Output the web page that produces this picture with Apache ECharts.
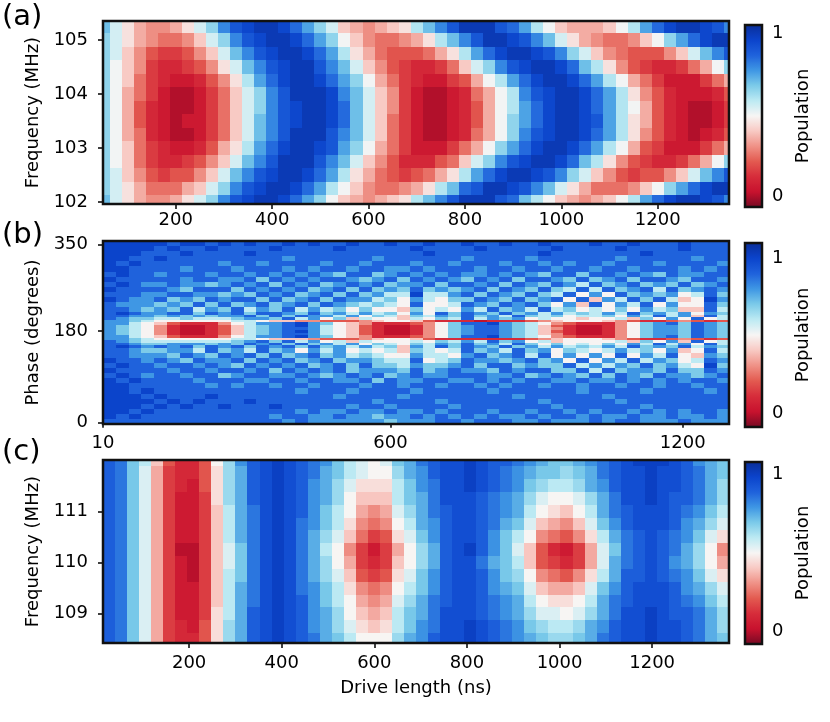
<!DOCTYPE html>
<html>
<head>
<meta charset="utf-8">
<script src="https://cdn.jsdelivr.net/npm/echarts@6/dist/echarts.min.js"></script>
<style>
  html, body { margin: 0; padding: 0; background: #fff; }
  #chart { width: 830px; height: 722px; }
</style>
</head>
<body>
<div id="chart"></div>
<script>
// ---- panel (a): frequency vs drive length, population in percent ----
var timeA = [50,75,100,125,150,175,200,225,250,275,300,325,350,375,400,425,450,475,500,525,550,575,600,625,650,675,700,725,750,775,800,825,850,875,900,925,950,975,1000,1025,1050,1075,1100,1125,1150,1175,1200,1225,1250,1275,1300,1325,1350];
var freqA = [102,102.25,102.5,102.75,103,103.25,103.5,103.75,104,104.25,104.5,104.75,105,105.25];
var popA_102_00 = [70,55,45,35,30,30,35,45,55,65,80,90,95,100,100,95,85,75,65,50,40,35,30,35,40,45,60,70,80,90,100,100,100,90,85,70,60,50,40,35,30,35,40,50,60,75,85,95,100,100,95,90,80];
var popA_102_25 = [65,55,45,35,25,25,25,35,40,55,65,80,90,95,100,100,95,85,75,60,50,40,30,25,25,30,35,45,60,70,85,90,100,100,95,90,80,70,55,45,35,25,25,25,30,40,50,65,75,85,95,100,100];
var popA_102_50 = [65,55,40,30,20,15,20,20,30,40,55,70,80,90,95,100,100,95,85,75,60,45,35,25,20,15,20,25,35,45,60,75,85,95,100,100,95,90,80,65,55,40,30,20,15,20,20,30,40,55,70,80,90];
var popA_102_75 = [65,50,40,25,15,10,10,15,20,30,40,55,70,80,90,100,100,100,90,80,70,55,40,30,20,10,10,10,20,25,40,55,65,80,90,95,100,100,95,85,70,60,45,30,20,15,10,10,15,25,35,50,65];
var popA_103_00 = [65,50,40,25,15,10,5,5,10,20,35,45,60,75,85,95,100,100,95,90,75,65,50,35,25,15,5,5,5,15,25,35,50,65,75,85,95,100,100,95,85,75,60,50,35,20,15,5,5,5,15,25,35];
var popA_103_25 = [65,50,35,25,10,5,0,0,5,15,25,40,55,70,80,90,100,100,100,90,80,70,55,40,25,15,5,0,0,5,10,25,35,50,65,80,90,95,100,100,95,85,75,60,45,30,20,10,5,0,5,10,20];
var popA_103_50 = [65,50,35,20,10,5,0,5,5,15,25,40,55,70,80,90,95,100,100,95,85,70,55,40,25,15,5,0,0,5,10,20,35,50,65,75,85,95,100,100,95,90,75,60,45,35,20,10,5,0,0,5,15];
var popA_103_75 = [65,50,35,20,10,5,0,0,5,15,25,40,55,65,80,90,95,100,100,95,85,70,55,40,30,15,5,0,0,5,10,20,35,50,60,75,85,95,100,100,95,85,75,60,50,35,20,10,5,0,0,5,15];
var popA_104_00 = [65,50,35,25,15,5,0,0,5,15,25,40,55,65,80,90,100,100,100,95,80,70,55,40,30,15,5,0,0,5,10,25,35,50,60,80,90,95,100,100,95,85,75,60,45,30,20,10,5,5,5,10,20];
var popA_104_25 = [65,50,40,25,15,10,5,5,10,20,30,45,60,75,85,95,100,100,95,85,75,65,50,35,25,15,10,5,5,15,20,35,50,60,75,85,95,100,100,95,85,75,60,50,35,25,15,5,5,5,15,25,35];
var popA_104_50 = [65,50,40,30,15,10,10,15,20,30,45,55,70,80,90,95,100,100,90,80,70,55,40,30,20,15,10,10,15,25,40,55,65,80,90,95,100,100,95,85,70,60,45,30,20,15,10,10,15,25,35,50,65];
var popA_104_75 = [65,55,40,30,20,15,15,20,30,40,55,70,80,90,95,100,100,95,85,75,60,45,35,25,20,20,20,25,35,45,60,75,85,95,100,100,95,90,80,65,55,40,30,25,20,20,20,30,40,55,70,80,90];
var popA_105_00 = [65,55,45,35,30,25,25,30,40,55,65,80,90,95,100,100,95,85,75,65,50,40,30,25,25,30,35,45,60,70,80,90,100,100,95,90,80,70,55,45,35,30,25,25,30,40,50,65,75,85,95,100,100];
var popA_105_25 = [70,55,45,35,30,30,35,45,55,65,80,90,95,100,100,95,85,75,65,55,40,35,30,35,40,45,60,70,80,90,100,100,100,90,85,75,60,50,40,35,35,35,40,50,60,75,85,95,100,100,95,90,80];
var popA = [popA_102_00, popA_102_25, popA_102_50, popA_102_75, popA_103_00, popA_103_25, popA_103_50,
            popA_103_75, popA_104_00, popA_104_25, popA_104_50, popA_104_75, popA_105_00, popA_105_25];

// ---- panel (b): phase vs drive length, population in tenths ----
var timeB = [23.125,49.375,75.625,101.875,128.125,154.375,180.625,206.875,233.125,259.375,285.625,311.875,338.125,364.375,390.625,416.875,443.125,469.375,495.625,521.875,548.125,574.375,600.625,626.875,653.125,679.375,705.625,731.875,758.125,784.375,810.625,836.875,863.125,889.375,915.625,941.875,968.125,994.375,1020.625,1046.875,1073.125,1099.375,1125.625,1151.875,1178.125,1204.375,1230.625,1256.875,1283.125];
var phaseEdgesB = [-2.5,7.5,17.5,27.5,37.5,47.5,57.5,67.5,77.5,87.5,97.5,107.5,117.5,127.5,137.5,147.5,152.5,157.5,162.5,167.5,172.5,177.5,182.5,187.5,192.5,197.5,202.5,207.5,212.5,217.5,227.5,237.5,247.5,257.5,267.5,277.5,287.5,297.5,307.5,317.5,327.5,337.5,347.5,357.5];
var popB_002 = [9,9,9,9,9,9,9,9,9,9,9,9,9,9,8,9,8,8,8,8,8,8,7,8,8,8,9,9,8,9,9,9,8,8,9,8,8,8,9,8,9,9,8,8,8,9,8,8,8];
var popB_012 = [10,9,10,9,9,9,9,9,9,9,9,9,9,8,9,9,8,8,9,8,8,7,8,8,9,8,9,8,9,8,9,8,8,9,8,9,9,8,9,8,8,9,8,8,9,8,8,9,8];
var popB_022 = [10,10,9,10,9,9,9,9,9,9,9,9,9,9,9,8,9,8,8,9,8,8,9,8,8,9,8,9,9,9,8,9,9,8,9,9,8,9,8,9,9,8,9,8,9,8,9,9,8];
var popB_032 = [10,10,10,9,10,9,10,9,9,10,9,9,9,10,9,9,9,9,9,8,9,9,8,9,9,9,9,8,9,9,9,9,9,9,9,8,9,9,9,9,9,9,8,9,9,9,9,9,9];
var popB_042 = [10,10,10,10,9,10,9,10,9,9,9,10,9,9,9,9,9,9,9,9,9,8,9,9,9,9,8,9,9,9,9,9,9,9,8,9,9,9,9,9,8,9,9,9,9,9,9,9,9];
var popB_052 = [10,10,10,9,10,9,9,9,10,9,9,9,9,9,9,9,9,9,8,9,9,9,9,8,9,9,9,9,9,9,9,9,8,9,9,9,9,9,9,8,9,9,9,9,9,9,9,9,9];
var popB_062 = [10,10,9,10,9,9,9,9,9,9,9,9,9,9,9,8,9,9,9,8,9,9,9,9,8,9,9,9,9,9,8,9,9,9,9,9,9,8,9,9,9,9,8,9,9,9,9,8,9];
var popB_072 = [10,10,9,9,9,9,9,9,8,9,8,9,9,8,9,9,8,9,9,9,8,9,9,8,9,9,8,9,9,8,9,8,9,9,8,9,9,8,9,9,8,9,9,8,9,9,8,9,9];
var popB_082 = [10,9,10,9,9,9,9,8,9,9,9,8,8,9,9,8,9,9,8,8,9,7,9,8,8,9,9,8,8,9,8,9,8,9,9,8,8,9,8,8,9,8,9,8,9,8,9,9,8];
var popB_092 = [9,10,9,8,9,9,8,9,9,7,8,9,9,8,8,9,8,7,8,9,8,9,7,8,9,8,8,9,9,9,8,8,9,7,8,9,8,7,9,7,9,8,7,9,8,8,7,8,9];
var popB_102 = [10,9,9,9,9,8,9,9,8,9,9,8,9,7,9,8,9,8,9,7,8,8,8,7,9,7,8,9,8,8,7,9,8,9,9,7,7,9,6,9,7,8,8,7,9,7,7,9,8];
var popB_112 = [9,10,9,9,8,9,9,8,9,8,7,9,8,9,8,9,7,8,9,7,9,7,7,6,8,7,7,8,9,7,9,9,7,8,7,7,9,6,8,6,8,7,9,7,8,6,5,10,7];
var popB_122 = [10,9,9,8,9,8,7,9,8,8,9,7,9,8,9,7,8,9,7,8,8,7,6,6,9,5,6,7,9,8,8,7,8,9,7,8,5,9,5,8,6,9,6,8,7,5,6,9,8];
var popB_132 = [9,9,8,8,8,7,9,8,7,9,8,9,7,9,7,8,9,7,8,6,7,6,5,5,8,6,6,5,8,9,7,8,9,6,9,5,8,5,8,5,9,5,8,6,9,5,4,8,7];
var popB_142 = [9,9,8,7,7,8,8,6,9,7,8,6,9,7,8,5,8,6,8,5,6,5,6,4,7,6,5,6,9,7,8,6,9,7,8,5,7,6,5,6,8,6,7,5,8,4,5,9,6];
var popB_150 = [9,10,9,8,9,8,9,7,9,8,9,7,9,8,9,7,9,7,8,6,8,6,7,4,8,6,9,7,9,8,7,9,7,8,6,8,6,7,6,8,6,9,7,8,7,9,6,8,7];
var popB_155 = [9,9,8,7,7,8,8,8,7,8,7,9,8,9,7,9,7,8,6,8,5,7,6,5,7,6,8,7,9,7,8,6,9,7,5,7,5,6,5,7,5,8,6,9,6,8,5,9,6];
var popB_160 = [9,8,7,6,6,6,6,6,6,6,7,8,9,7,9,6,8,5,6,4,6,5,5,5,6,5,7,6,8,6,9,7,8,5,6,4,5,5,5,5,6,4,7,5,8,4,9,5,6];
var popB_165 = [8,8,7,6,5,5,5,5,5,5,6,6,5,4,4,4,3,2,2,2,3,4,5,5,4,2,1,1,1,1,1,1,1,2,3,4,5,5,5,4,3,2,1,1,2,3,2,1,2];
var popB_170 = [8,8,6,5,4,2,1,1,1,3,5,6,8,8,9,10,8,7,5,4,3,1,1,1,2,3,5,7,9,9,10,8,7,6,5,3,2,1,1,1,3,5,7,8,9,7,9,8,7];
var popB_175 = [8,7,6,5,3,1,0,0,1,2,4,6,7,8,9,9,8,6,5,4,2,1,0,0,1,3,5,7,8,9,9,8,7,6,4,3,1,0,0,1,3,5,7,8,8,7,9,8,7];
var popB_180 = [8,7,6,5,3,1,0,0,1,2,4,6,7,8,9,10,8,6,5,4,2,1,0,0,1,3,5,7,8,9,9,8,7,6,4,2,1,0,0,1,3,5,7,8,8,7,9,8,7];
var popB_185 = [8,7,6,5,3,1,0,0,1,2,4,6,7,8,9,9,8,6,5,4,2,1,0,0,1,3,5,7,8,9,9,8,7,6,4,3,1,0,0,1,3,5,7,8,8,7,9,8,7];
var popB_190 = [8,7,6,5,3,1,0,0,1,2,4,6,7,8,9,10,8,6,5,4,2,1,0,0,1,3,5,7,8,9,9,8,7,6,4,2,1,0,0,1,3,5,7,8,8,7,9,8,7];
var popB_195 = [8,8,6,5,4,2,1,1,1,3,5,6,8,8,9,10,8,7,5,4,3,1,1,1,2,3,5,7,9,9,10,8,7,6,5,3,2,1,1,1,3,5,7,8,9,7,9,8,7];
var popB_200 = [8,8,7,6,5,5,5,5,5,5,6,6,5,4,4,3,3,2,2,2,3,4,5,5,4,2,1,1,1,0,1,1,1,2,3,4,5,5,5,4,3,2,1,1,2,3,2,1,2];
var popB_205 = [9,8,7,7,6,6,7,6,6,6,7,8,8,7,9,6,8,5,7,4,6,5,5,4,6,5,7,6,9,6,8,7,8,5,6,5,5,4,5,5,6,4,7,5,8,5,9,5,6];
var popB_210 = [9,9,8,8,7,8,7,8,7,8,8,9,7,9,7,9,8,8,6,8,5,7,6,4,7,6,8,7,9,7,8,6,9,7,6,7,5,6,6,7,5,8,6,9,6,8,4,9,6];
var popB_215 = [9,10,9,8,8,9,9,7,9,8,9,7,9,9,8,7,9,7,8,6,8,6,7,5,8,5,9,7,9,8,7,9,7,8,6,8,6,7,6,8,6,9,7,8,6,8,5,8,7];
var popB_222 = [9,9,8,7,8,7,9,6,8,7,9,6,8,7,9,6,8,6,7,5,7,5,5,4,7,5,6,5,8,6,9,7,8,6,9,6,7,5,6,5,7,5,8,6,7,4,4,9,6];
var popB_232 = [9,8,8,8,7,8,7,9,7,9,7,8,9,7,8,9,7,9,8,7,6,7,6,5,9,5,5,6,9,8,7,9,8,9,7,5,8,4,9,5,8,6,9,5,8,5,5,9,7];
var popB_242 = [10,9,8,8,9,7,8,7,9,8,9,9,7,9,7,8,9,7,9,8,8,6,7,5,8,6,5,7,7,9,8,7,9,7,8,9,5,9,4,8,6,9,7,9,6,4,5,10,8];
var popB_252 = [9,9,9,8,8,9,9,8,8,7,8,7,9,8,9,7,8,9,7,9,7,8,6,6,10,6,6,8,9,7,9,8,7,9,7,6,9,5,8,5,9,7,8,7,8,5,6,9,7];
var popB_262 = [10,9,9,9,9,8,7,9,9,9,7,9,8,9,8,9,7,8,9,7,9,7,8,7,9,7,8,7,8,9,7,9,8,7,9,7,6,9,6,9,7,8,9,6,9,7,8,9,8];
var popB_272 = [9,10,9,8,8,9,8,8,7,8,9,8,9,7,9,8,9,7,8,9,8,9,7,8,8,9,7,9,9,8,9,7,9,8,7,9,8,6,9,7,8,9,7,8,7,9,7,8,9];
var popB_282 = [10,9,9,9,9,9,8,9,9,8,8,9,7,9,8,9,8,9,9,8,7,8,9,7,9,8,9,8,7,9,8,9,7,9,9,8,7,9,7,8,9,7,9,9,8,7,9,9,8];
var popB_292 = [9,10,9,9,8,9,9,9,8,9,9,8,9,8,9,8,9,8,7,9,9,7,8,9,8,9,8,9,8,8,9,8,9,8,7,9,9,7,9,9,8,9,8,7,9,8,8,9,9];
var popB_302 = [10,10,9,9,9,9,8,9,9,9,8,9,9,9,8,9,8,9,9,8,9,9,8,8,9,8,9,9,9,8,9,9,8,9,9,8,9,9,8,9,9,8,9,9,9,8,9,8,9];
var popB_312 = [10,9,10,9,9,9,9,9,9,8,9,9,8,9,9,9,9,8,9,9,8,9,9,9,8,9,9,8,9,9,9,8,9,9,8,9,8,9,9,8,9,9,9,8,9,9,9,9,8];
var popB_322 = [10,10,9,9,10,9,9,9,9,9,9,9,9,9,8,9,9,9,9,9,9,8,9,9,9,9,9,9,8,9,9,9,9,8,9,9,9,9,9,9,8,9,9,9,9,9,8,9,9];
var popB_332 = [10,10,10,9,9,9,10,9,9,9,9,10,9,9,9,9,9,9,9,9,9,9,9,9,9,10,9,9,9,9,9,9,9,9,10,9,9,9,9,9,9,9,10,9,9,9,9,9,9];
var popB_342 = [10,10,10,10,9,10,9,9,10,9,9,9,9,10,9,9,9,9,10,9,9,9,9,9,10,9,9,9,9,10,9,9,9,9,9,10,9,9,9,9,10,9,9,9,9,10,9,9,9];
var popB_352 = [10,10,10,10,10,9,10,10,9,10,9,10,9,9,10,9,10,9,9,10,9,9,10,9,9,10,9,9,10,9,9,10,9,9,10,9,9,9,10,9,9,10,9,9,9,10,9,9,9];
var popB = [popB_002, popB_012, popB_022, popB_032, popB_042, popB_052, popB_062, popB_072, popB_082, popB_092,
            popB_102, popB_112, popB_122, popB_132, popB_142, popB_150, popB_155, popB_160, popB_165, popB_170,
            popB_175, popB_180, popB_185, popB_190, popB_195, popB_200, popB_205, popB_210, popB_215, popB_222,
            popB_232, popB_242, popB_252, popB_262, popB_272, popB_282, popB_292, popB_302, popB_312, popB_322,
            popB_332, popB_342, popB_352];

// ---- panel (c): frequency vs drive length, population in percent ----
var timeC = [27,53,79,105,131,157,183,209,235,261,287,313,339,365,391,417,443,469,495,521,547,573,599,625,651,677,703,729,755,781,807,833,859,885,911,937,963,989,1015,1041,1067,1093,1119,1145,1171,1197,1223,1249,1275,1301,1327,1353];
var freqC = [108.5,108.75,109,109.25,109.5,109.75,110,110.25,110.5,110.75,111,111.25,111.5,111.75,112];
var popC_108_50 = [90,85,70,55,35,15,10,10,20,45,65,75,90,95,100,95,90,85,75,70,60,50,50,50,65,75,80,90,95,95,100,95,90,85,80,75,70,65,65,70,75,85,90,95,95,100,95,95,90,85,75,70];
var popC_108_75 = [90,85,70,55,35,15,10,5,20,45,65,75,90,95,100,95,90,80,75,65,55,45,40,45,60,70,80,85,95,95,100,95,90,85,80,70,65,60,60,65,75,80,90,95,95,100,95,95,90,85,75,65];
var popC_109_00 = [90,85,70,55,35,15,5,5,15,45,60,75,90,95,100,95,90,80,75,65,50,40,35,40,60,70,75,85,95,95,95,90,85,80,75,65,55,55,50,55,65,75,85,95,95,100,95,90,90,85,75,65];
var popC_109_25 = [90,85,70,55,35,15,5,5,15,40,60,75,85,95,100,95,90,80,70,60,50,35,30,35,55,65,75,85,90,95,95,90,85,80,75,60,50,45,45,50,60,75,85,90,95,95,95,90,85,80,70,60];
var popC_109_50 = [90,85,70,55,35,15,5,5,15,40,60,75,85,95,100,95,85,80,70,60,45,30,25,30,50,60,70,80,90,95,95,90,80,75,70,55,40,35,35,40,55,70,80,90,95,95,95,90,80,75,65,55];
var popC_109_75 = [90,85,70,55,35,15,5,0,15,40,60,70,85,95,100,95,85,75,65,55,40,20,15,20,45,55,70,80,90,95,95,90,80,70,65,50,30,25,20,30,45,60,75,90,90,95,90,85,80,70,55,45];
var popC_110_00 = [90,85,70,55,35,15,5,0,15,40,55,70,85,95,100,95,85,75,65,50,35,15,10,15,40,50,65,75,90,95,95,85,75,70,60,40,20,15,10,15,35,55,75,85,90,95,90,80,75,65,50,35];
var popC_110_25 = [90,85,70,55,35,15,0,0,15,40,55,70,85,95,100,95,85,75,60,50,30,15,5,15,35,50,65,75,90,95,100,90,80,70,55,40,20,10,5,15,35,55,70,85,90,95,90,85,75,65,50,30];
var popC_110_50 = [90,85,70,55,35,15,5,5,15,40,60,75,85,95,100,95,85,75,65,55,40,25,15,20,45,55,70,80,90,95,95,90,80,70,60,50,30,25,20,30,45,60,75,85,90,95,90,85,80,70,55,45];
var popC_110_75 = [90,85,70,55,35,15,5,5,15,40,60,75,85,95,100,95,85,80,70,60,45,30,25,30,50,60,75,80,90,95,95,90,85,75,70,55,40,35,30,40,55,70,80,90,95,95,95,90,80,75,65,55];
var popC_111_00 = [90,85,70,55,35,15,5,5,15,40,60,75,85,95,100,95,90,80,70,60,50,35,30,35,55,65,75,85,90,95,95,90,85,80,75,60,50,45,40,50,60,75,85,90,95,95,95,90,85,80,70,60];
var popC_111_25 = [90,85,70,55,35,15,5,5,15,45,65,75,90,95,100,95,90,80,75,65,50,40,40,40,60,70,75,85,95,95,95,90,85,80,75,65,55,50,50,55,65,75,85,95,95,100,95,90,90,85,75,65];
var popC_111_50 = [90,85,70,55,35,15,10,5,20,45,65,75,90,95,100,95,90,80,75,65,55,45,45,45,60,70,80,85,95,95,100,95,90,85,80,70,65,60,60,65,75,80,90,95,95,100,95,95,90,85,75,65];
var popC_111_75 = [90,85,70,55,35,15,10,10,20,45,65,75,90,95,100,95,90,85,75,70,60,55,50,50,65,75,80,90,95,95,100,95,90,85,80,75,70,70,65,70,75,85,90,95,95,100,95,95,90,85,75,70];
var popC_112_00 = [90,85,70,60,40,20,10,10,20,50,65,80,90,95,100,95,90,85,80,70,60,55,50,55,70,75,85,90,95,95,100,95,90,90,85,80,75,70,70,75,80,85,90,95,100,100,100,95,90,80,75,70];
var popC = [popC_108_50, popC_108_75, popC_109_00, popC_109_25, popC_109_50, popC_109_75, popC_110_00, popC_110_25,
            popC_110_50, popC_110_75, popC_111_00, popC_111_25, popC_111_50, popC_111_75, popC_112_00];

// tick labels
var ticksAx = [200, 400, 600, 800, 1000, 1200];
var ticksAy = [102, 103, 104, 105];
var ticksBx = [10, 600, 1200];
var ticksBy = [0, 180, 350];
var ticksCx = [200, 400, 600, 800, 1000, 1200];
var ticksCy = [109, 110, 111];
var ticksBar = [0, 1];

// colour scale (red = 0, blue = 1)
var palette = ['#780a24', '#c8122e', '#d62c3a', '#e35a50', '#ef9186', '#f8c9c3', '#f7f5f4',
               '#bdeaf3', '#7ccbe9', '#3f97e4', '#1f62dc', '#0b44cc', '#0a2e9a'];

function edgesOf(c) {
  var e = [c[0] - (c[1] - c[0]) / 2];
  for (var i = 1; i < c.length; i++) e.push((c[i - 1] + c[i]) / 2);
  e.push(c[c.length - 1] + (c[c.length - 1] - c[c.length - 2]) / 2);
  return e;
}

function buildCells(xEdges, yEdges, rows, scale) {
  var out = [];
  for (var r = 0; r < rows.length; r++) {
    for (var c = 0; c < rows[r].length; c++) {
      out.push([xEdges[c], xEdges[c + 1], yEdges[r], yEdges[r + 1], rows[r][c] * scale]);
    }
  }
  return out;
}

var cellsA = buildCells(edgesOf(timeA), edgesOf(freqA), popA, 0.01);
var cellsB = buildCells(edgesOf(timeB), phaseEdgesB, popB, 0.1);
var cellsC = buildCells(edgesOf(timeC), edgesOf(freqC), popC, 0.01);

function renderCell(params, api) {
  var cs = params.coordSys;
  var a = api.coord([api.value(0), api.value(3)]);
  var b = api.coord([api.value(1), api.value(2)]);
  var x0 = Math.max(cs.x, Math.round(a[0]));
  var x1 = Math.min(cs.x + cs.width, Math.round(b[0]));
  var y0 = Math.max(cs.y, Math.round(a[1]));
  var y1 = Math.min(cs.y + cs.height, Math.round(b[1]));
  if (x1 <= x0 || y1 <= y0) return null;
  return {
    type: 'rect',
    shape: { x: x0, y: y0, width: x1 - x0, height: y1 - y0 },
    style: { fill: api.visual('color') }
  };
}

// layout
var font = 'DejaVu Sans';
var plotLeft = 103, plotWidth = 626;
var panels = [
  { top: 21, height: 183, xmin: 49, xmax: 1348, ymin: 101.96, ymax: 105.35, tx: ticksAx, ty: ticksAy, yname: 'Frequency (MHz)', label: '(a)', labelTop: 3, margin: 7 },
  { top: 241, height: 183, xmin: 10, xmax: 1295, ymin: -2.5, ymax: 357.5, tx: ticksBx, ty: ticksBy, yname: 'Phase (degrees)', label: '(b)', labelTop: 221, margin: 10 },
  { top: 460, height: 183, xmin: 14, xmax: 1366, ymin: 108.43, ymax: 112.0, tx: ticksCx, ty: ticksCy, yname: 'Frequency (MHz)', label: '(c)', labelTop: 438, margin: 11 }
];
var bars = [
  { top: 25, height: 182, min: -0.067, max: 1.051 },
  { top: 243, height: 184, min: -0.09, max: 1.097 },
  { top: 462, height: 182, min: -0.078, max: 1.08 }
];
var barLeft = 745, barWidth = 17;

var plain = function (v) { return String(v); };
var tickStyle = { color: '#000', width: 1.5 };
var tickFont = 18, nameFont = 18;

var grids = [], xAxes = [], yAxes = [], series = [], visualMaps = [], graphics = [];
var allCells = [cellsA, cellsB, cellsC];

panels.forEach(function (p, i) {
  grids.push({ left: plotLeft, top: p.top, width: plotWidth, height: p.height });
  xAxes.push({
    gridIndex: i, type: 'value', min: p.xmin, max: p.xmax,
    axisLine: { show: false }, splitLine: { show: false },
    axisTick: { show: true, length: 5, lineStyle: tickStyle, customValues: p.tx },
    axisLabel: { customValues: p.tx, formatter: plain, fontSize: tickFont, fontFamily: font, color: '#000', margin: p.margin },
    name: i === 2 ? 'Drive length (ns)' : '', nameLocation: 'middle', nameGap: 36,
    nameTextStyle: { fontSize: nameFont, fontFamily: font, color: '#000' }
  });
  yAxes.push({
    gridIndex: i, type: 'value', min: p.ymin, max: p.ymax,
    axisLine: { show: false }, splitLine: { show: false },
    axisTick: { show: true, length: 5, lineStyle: tickStyle, customValues: p.ty },
    axisLabel: { customValues: p.ty, formatter: plain, fontSize: tickFont, fontFamily: font, color: '#000', margin: 15 },
    name: p.yname, nameLocation: 'middle', nameGap: 56, nameRotate: 90,
    nameTextStyle: { fontSize: nameFont, fontFamily: font, color: '#000' }
  });
  series.push({
    type: 'custom', xAxisIndex: i, yAxisIndex: i, renderItem: renderCell,
    data: allCells[i], encode: { x: [0, 1], y: [2, 3] }, silent: true
  });
  graphics.push({
    type: 'text', left: 2, top: p.labelTop, silent: true,
    style: { text: p.label, fontSize: 29, fontFamily: font, fill: '#000' }
  });
  graphics.push({
    type: 'rect', z: 100, silent: true,
    shape: { x: plotLeft, y: p.top, width: plotWidth, height: p.height },
    style: { fill: 'transparent', stroke: '#111', lineWidth: 2.5 }
  });
});

bars.forEach(function (b, i) {
  grids.push({ left: barLeft, top: b.top, width: barWidth, height: b.height });
  xAxes.push({ gridIndex: 3 + i, type: 'value', show: false, min: 0, max: 1 });
  yAxes.push({
    gridIndex: 3 + i, type: 'value', position: 'right', min: b.min, max: b.max,
    axisLine: { show: false }, splitLine: { show: false },
    axisTick: { show: true, length: 5, lineStyle: tickStyle, customValues: ticksBar },
    axisLabel: { customValues: ticksBar, formatter: plain, fontSize: tickFont, fontFamily: font, color: '#000', margin: 10 },
    name: 'Population', nameLocation: 'middle', nameGap: 32, nameRotate: 90,
    nameTextStyle: { fontSize: nameFont, fontFamily: font, color: '#000' }
  });
  visualMaps.push({
    type: 'continuous', seriesIndex: i, dimension: 4, min: b.min, max: b.max,
    inRange: { color: palette }, orient: 'vertical', left: barLeft, top: b.top,
    itemWidth: barWidth, itemHeight: b.height, padding: 0,
    calculable: false, text: null, hoverLink: false
  });
  graphics.push({
    type: 'rect', z: 100, silent: true,
    shape: { x: barLeft, y: b.top, width: barWidth, height: b.height },
    style: { fill: 'transparent', stroke: '#111', lineWidth: 2.5 }
  });
});

var chart = echarts.init(document.getElementById('chart'));
chart.setOption({
  backgroundColor: '#fff',
  animation: false,
  textStyle: { fontFamily: font },
  grid: grids,
  xAxis: xAxes,
  yAxis: yAxes,
  visualMap: visualMaps,
  series: series,
  graphic: graphics
});
</script>
</body>
</html>
